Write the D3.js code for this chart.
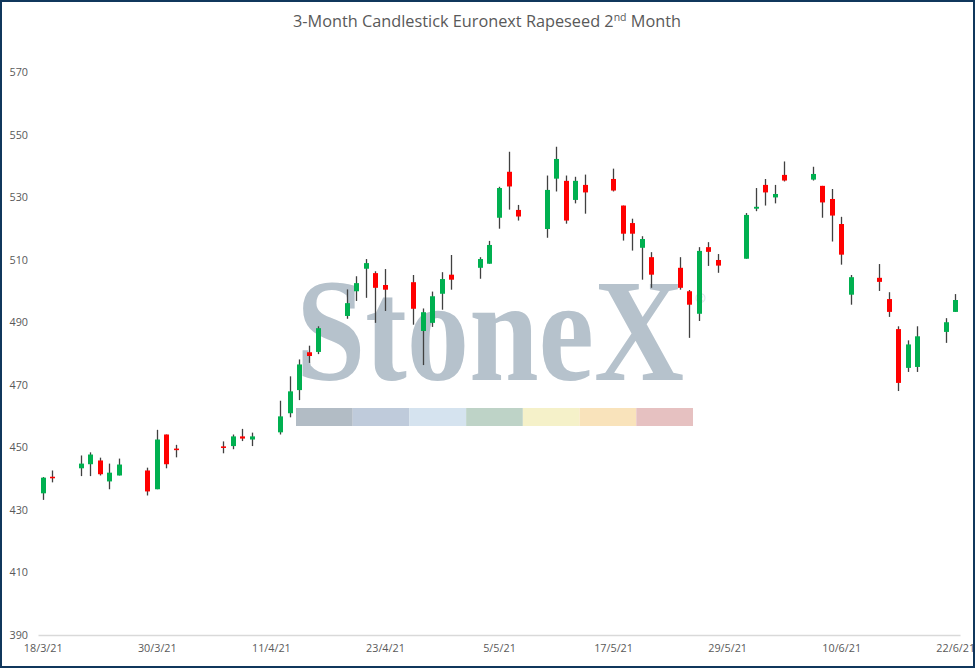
<!DOCTYPE html>
<html>
<head>
<meta charset="utf-8">
<script src="https://cdn.jsdelivr.net/npm/d3@7"></script>
<style>
  html, body { margin: 0; padding: 0; background: #fff; }
  svg { display: block; font-family: "Open Sans", "Noto Sans", sans-serif; }
</style>
</head>
<body>
<svg id="chart" width="975" height="668"></svg>
<script>
// daily candles, Euronext rapeseed 2nd month
const dates = [
  '18/3/21', '19/3/21', '22/3/21', '23/3/21', '24/3/21', '25/3/21', '26/3/21',
  '29/3/21', '30/3/21', '31/3/21', '1/4/21', '6/4/21', '7/4/21', '8/4/21',
  '9/4/21', '12/4/21', '13/4/21', '14/4/21', '15/4/21', '16/4/21', '19/4/21',
  '20/4/21', '21/4/21', '22/4/21', '23/4/21', '26/4/21', '27/4/21', '28/4/21',
  '29/4/21', '30/4/21', '3/5/21', '4/5/21', '5/5/21', '6/5/21', '7/5/21',
  '10/5/21', '11/5/21', '12/5/21', '13/5/21', '14/5/21', '17/5/21', '18/5/21',
  '19/5/21', '20/5/21', '21/5/21', '24/5/21', '25/5/21', '26/5/21', '27/5/21',
  '28/5/21', '31/5/21', '1/6/21', '2/6/21', '3/6/21', '4/6/21', '7/6/21',
  '8/6/21', '9/6/21', '10/6/21', '11/6/21', '14/6/21', '15/6/21', '16/6/21',
  '17/6/21', '18/6/21', '21/6/21', '22/6/21'
];
const open = [
  435.3, 440.6, 443.3, 444.6, 445.8, 439.1, 441.0,
  442.6, 436.6, 454.1, 449.6, 450.3, 450.4, 453.5,
  452.5, 454.8, 460.9, 468.3, 480.4, 480.5, 492.0,
  499.9, 507.1, 505.7, 501.9, 502.8, 487.2, 489.8,
  499.1, 505.2, 507.4, 508.7, 523.4, 538.1, 525.9,
  519.8, 535.9, 535.2, 529.1, 533.9, 535.8, 527.3,
  521.7, 513.8, 510.8, 507.4, 499.9, 492.7, 514.0,
  509.9, 510.3, 526.3, 533.9, 529.9, 537.1, 535.6,
  533.6, 529.4, 521.4, 498.8, 504.2, 497.4, 487.8,
  475.4, 475.7, 486.9, 493.3
];
const high = [
  440.5, 442.6, 447.4, 448.4, 446.7, 444.8, 446.4,
  443.5, 455.6, 454.1, 450.8, 451.9, 454.1, 455.9,
  454.7, 464.9, 472.7, 478.1, 482.5, 488.7, 500.5,
  504.7, 510.2, 506.3, 507.0, 505.1, 494.4, 499.8,
  506.0, 511.5, 510.8, 516.0, 533.3, 544.5, 527.5,
  536.9, 546.1, 536.9, 536.5, 537.2, 539.1, 527.3,
  523.1, 517.5, 512.4, 510.8, 500.3, 514.0, 515.6,
  511.8, 524.9, 532.9, 535.8, 533.9, 541.4, 539.7,
  533.6, 532.6, 523.7, 505.1, 508.6, 499.6, 488.7,
  484.2, 488.7, 491.3, 499.0
];
const low = [
  433.2, 438.8, 440.8, 440.8, 441.0, 436.6, 441.0,
  434.6, 436.6, 443.3, 446.8, 448.1, 449.4, 452.0,
  450.4, 454.1, 459.6, 465.1, 477.0, 479.8, 491.1,
  496.8, 497.8, 489.8, 493.6, 489.2, 476.3, 488.5,
  494.0, 500.4, 503.9, 508.7, 519.9, 526.0, 522.5,
  517.0, 531.8, 521.5, 528.0, 524.7, 531.8, 516.1,
  512.9, 503.6, 501.0, 500.4, 485.0, 490.4, 508.0,
  505.8, 510.3, 525.5, 527.3, 528.0, 535.0, 535.3,
  523.4, 515.8, 508.4, 495.6, 500.0, 491.7, 468.0,
  474.1, 474.1, 483.4, 493.3
];
const close = [
  440.3, 440.1, 444.8, 447.7, 441.4, 441.9, 444.5,
  435.9, 452.5, 444.6, 449.1, 449.8, 453.5, 452.8,
  453.5, 459.9, 467.9, 476.5, 479.2, 488.1, 496.1,
  502.5, 508.9, 501.0, 500.4, 494.3, 493.2, 498.3,
  503.8, 503.6, 510.2, 514.7, 532.9, 533.4, 523.8,
  532.3, 542.2, 522.5, 535.2, 531.5, 532.1, 518.3,
  518.3, 516.6, 505.2, 501.0, 495.6, 512.8, 512.5,
  508.1, 524.3, 526.9, 531.5, 531.0, 535.3, 537.4,
  528.3, 524.1, 511.6, 504.4, 502.9, 493.3, 470.6,
  482.9, 485.5, 490.0, 497.1
];

const xTickLabels = ['18/3/21', '30/3/21', '11/4/21', '23/4/21', '5/5/21', '17/5/21', '29/5/21', '10/6/21', '22/6/21'];
const yTicks = [390, 410, 430, 450, 470, 490, 510, 530, 550, 570];

const watermarkColors = ['#b2bcc5', '#bfcbdb', '#d5e3ef', '#bed3c7', '#f5f1c9', '#f9e3bb', '#e6c1c1'];

function drawChart() {
  const svg = d3.select('#chart');
  const width = 975;
  const height = 668;

  const parse = d3.utcParse('%d/%m/%y');
  const day = 864e5;
  const candles = dates.map((d, i) => ({
    date: parse(d),
    open: open[i],
    high: high[i],
    low: low[i],
    close: close[i]
  }));

  const first = parse(dates[0]);
  const last = parse(dates[dates.length - 1]);

  // date axis: one slot per calendar day, so weekends leave gaps
  const x = d3
    .scaleUtc()
    .domain([first, new Date(+last + day)])
    .range([38, 960]);
  const mid = d => x(new Date(+d + day / 2));

  const y = d3.scaleLinear().domain([390, 570]).range([635, 72]);

  svg.append('rect')
    .attr('width', width)
    .attr('height', height)
    .attr('fill', '#fff');

  // title
  const title = svg.append('text')
    .attr('x', 487)
    .attr('y', 27)
    .attr('text-anchor', 'middle')
    .attr('font-size', 16.3)
    .attr('fill', '#595959');
  title.append('tspan').text('3-Month Candlestick Euronext Rapeseed 2');
  title.append('tspan')
    .attr('font-size', 10.5)
    .attr('dy', -6)
    .text('nd');
  title.append('tspan')
    .attr('dy', 6)
    .text(' Month');

  // watermark: squeeze the word horizontally to the logo width
  const wm = svg.append('g');
  const logo = wm.append('text')
    .attr('font-family', '"Liberation Serif", "DejaVu Serif", serif')
    .attr('font-size', 146)
    .attr('font-weight', 'bold')
    .attr('fill', '#b6c2cc')
    .text('StoneX');
  const natural = logo.node().getComputedTextLength();
  logo.attr('transform', `translate(296,380) scale(${388 / natural},1)`);

  wm.append('text')
    .attr('x', 695)
    .attr('y', 303)
    .attr('font-size', 13)
    .attr('fill', '#d3dae0')
    .text('®');

  const barX = d3
    .scaleBand()
    .domain(d3.range(watermarkColors.length))
    .range([296, 693]);
  wm.selectAll('.wm-bar')
    .data(watermarkColors)
    .join('rect')
    .attr('class', 'wm-bar')
    .attr('x', (d, i) => barX(i))
    .attr('y', 408)
    .attr('width', barX.bandwidth())
    .attr('height', 18)
    .attr('fill', d => d);

  // y axis labels, no line
  const yAxis = svg.append('g')
    .attr('transform', 'translate(28,0)')
    .call(d3.axisLeft(y).tickValues(yTicks).tickSize(0).tickPadding(0));
  yAxis.select('.domain').remove();
  yAxis.selectAll('text')
    .attr('font-family', '"Open Sans", sans-serif')
    .attr('font-size', 10.8)
    .attr('fill', '#595959');

  // x axis
  const xAxis = svg.append('g')
    .attr('transform', `translate(0,${y(390)})`)
    .call(
      d3.axisBottom(x)
        .tickValues(xTickLabels.map(d => new Date(+parse(d) + day / 2)))
        .tickFormat(d3.utcFormat('%-d/%-m/%y'))
        .tickSize(0)
        .tickPadding(9)
    );
  xAxis.select('.domain')
    .attr('stroke', '#d9d9d9')
    .attr('stroke-width', 1.3);
  xAxis.selectAll('text')
    .attr('font-family', '"Open Sans", sans-serif')
    .attr('font-size', 10.8)
    .attr('fill', '#595959');

  // candles
  const bodyW = 5;
  const g = svg.append('g');
  const candle = g.selectAll('.candle')
    .data(candles)
    .join('g')
    .attr('class', 'candle');

  candle.append('line')
    .attr('x1', d => Math.round(mid(d.date)) + 0.5)
    .attr('x2', d => Math.round(mid(d.date)) + 0.5)
    .attr('y1', d => y(d.high))
    .attr('y2', d => y(d.low))
    .attr('stroke', '#404040')
    .attr('stroke-width', 1.3);

  candle.append('rect')
    .attr('x', d => Math.round(mid(d.date)) + 0.5 - bodyW / 2)
    .attr('y', d => y(Math.max(d.open, d.close)))
    .attr('width', bodyW)
    .attr('height', d => Math.max(1.5, Math.abs(y(d.open) - y(d.close))))
    .attr('fill', d => (d.close >= d.open ? '#00b050' : '#ff0000'));

  // outer frame
  svg.append('rect')
    .attr('x', 1)
    .attr('y', 1)
    .attr('width', width - 2)
    .attr('height', height - 2)
    .attr('fill', 'none')
    .attr('stroke', '#10375c')
    .attr('stroke-width', 2);
}

document.addEventListener('DOMContentLoaded', drawChart);
</script>
</body>
</html>
